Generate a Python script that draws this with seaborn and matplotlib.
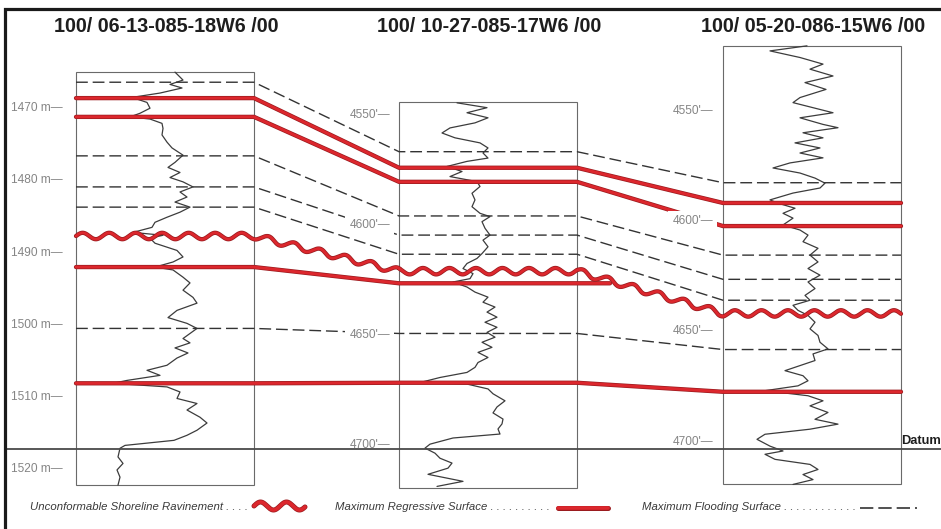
import numpy as np
import matplotlib
matplotlib.use("Agg")
import matplotlib.pyplot as plt
import matplotlib.patheffects as pe
from matplotlib.patches import Rectangle
from matplotlib.lines import Line2D
from matplotlib import font_manager
import seaborn as sns

# ---------------- data ----------------
wells = ["100/ 06-13-085-18W6 /00", "100/ 10-27-085-17W6 /00", "100/ 05-20-086-15W6 /00"]
units = ["m", "ft", "ft"]
datum_depth = [1517.2, 4702.0, 4703.4]
log_top = [1465.0, 4544.1, 4520.3]
log_base = [1522.2, 4719.9, 4719.4]
depth_ticks = [[1470, 1480, 1490, 1500, 1510, 1520],
               [4550, 4600, 4650, 4700],
               [4550, 4600, 4650, 4700]]

# surface picks (depth in each well, well units)
mfs_1 = [1466.4, 4566.9, 4582.4]
mfs_2 = [1476.6, 4596.1, 4615.3]
mfs_3 = [1480.9, 4604.8, 4626.3]
mfs_4 = [1483.7, 4613.5, 4635.8]
mfs_5 = [1500.5, 4649.5, 4658.2]
mrs_1 = [1468.6, 4574.2, 4591.6]
mrs_2 = [1471.2, 4580.6, 4602.1]
mrs_3 = [1492.0, 4626.7, None]
mrs_4 = [1508.1, 4671.9, 4677.4]
ravinement = [1487.7, 4621.2, 4641.8]

# gamma ray logs (depth, GR)
w1_depth = [1465.0, 1466.1, 1466.7, 1467.2, 1467.9, 1468.5, 1469.2, 1470.0, 1470.7, 1471.2,
            1471.5, 1472.1, 1472.8, 1473.7, 1474.7, 1475.5, 1476.5, 1477.5, 1478.2, 1478.9,
            1479.6, 1480.2, 1480.9, 1481.6, 1482.3, 1483.0, 1483.7, 1484.4, 1485.1, 1485.8,
            1486.5, 1487.2, 1487.6, 1488.0, 1488.7, 1489.7, 1490.6, 1491.3, 1492.0, 1492.4,
            1493.4, 1494.2, 1495.2, 1496.2, 1497.0, 1498.0, 1499.0, 1499.8, 1500.5, 1501.2,
            1501.9, 1502.5, 1503.2, 1503.9, 1504.6, 1505.6, 1506.3, 1507.0, 1507.7, 1508.1,
            1508.6, 1509.3, 1510.2, 1510.9, 1511.8, 1512.8, 1513.6, 1514.6, 1515.3, 1516.0,
            1516.7, 1517.1, 1518.3, 1519.2, 1520.1, 1521.1, 1522.2]
w1_gr = [99, 107, 94, 106, 84, 56, 71, 74, 64, 54,
         74, 86, 87, 86, 91, 96, 107, 99, 92, 104,
         94, 107, 117, 104, 111, 99, 114, 104, 91, 79,
         76, 57, 87, 74, 79, 101, 107, 97, 79, 97,
         107, 114, 107, 117, 121, 101, 92, 111, 121, 114,
         107, 114, 99, 112, 101, 91, 71, 84, 51, 37,
         91, 104, 101, 121, 111, 124, 131, 121, 111, 98,
         49, 44, 42, 47, 41, 44, 42]

w2_depth = [4544.7, 4546.9, 4549.2, 4551.5, 4553.8, 4556.1, 4558.4, 4560.6, 4562.9, 4565.2,
            4567.5, 4569.8, 4571.3, 4573.6, 4575.9, 4578.2, 4580.5, 4582.7, 4585.8, 4588.8,
            4591.9, 4594.9, 4596.4, 4598.7, 4601.7, 4604.8, 4607.1, 4610.1, 4613.2, 4615.4,
            4617.7, 4620.0, 4622.3, 4624.6, 4626.1, 4628.4, 4630.7, 4633.0, 4635.3, 4637.5,
            4639.8, 4642.1, 4644.4, 4646.7, 4649.0, 4651.2, 4653.5, 4655.8, 4658.1, 4660.4,
            4662.7, 4664.9, 4667.2, 4669.5, 4671.8, 4672.5, 4674.7, 4676.9, 4680.1, 4682.9,
            4685.6, 4688.4, 4690.6, 4692.9, 4695.2, 4697.0, 4699.8, 4701.6, 4703.9, 4706.2,
            4708.4, 4710.7, 4713.5, 4716.7, 4719.0]
w2_gr = [58, 88, 68, 89, 76, 51, 43, 56, 81, 89,
         84, 89, 68, 48, 63, 51, 78, 81, 73, 76,
         73, 81, 91, 83, 86, 91, 84, 89, 83, 78,
         68, 64, 74, 71, 54, 68, 76, 89, 84, 96,
         88, 98, 86, 98, 88, 96, 83, 93, 79, 89,
         79, 76, 68, 41, 21, 68, 89, 94, 106, 98,
         94, 104, 103, 99, 101, 54, 31, 26, 36, 41,
         53, 49, 29, 64, 38]

w3_depth = [4520.2, 4522.5, 4525.5, 4528.5, 4530.8, 4533.9, 4536.9, 4540.0, 4543.7, 4546.0,
            4548.3, 4550.6, 4552.9, 4555.9, 4557.4, 4559.7, 4562.0, 4564.3, 4566.6, 4568.9,
            4571.1, 4573.4, 4575.7, 4578.0, 4580.3, 4582.6, 4584.8, 4587.1, 4590.2, 4591.7,
            4594.0, 4596.3, 4598.5, 4601.6, 4603.9, 4606.2, 4609.2, 4612.2, 4615.3, 4618.4,
            4621.4, 4624.4, 4627.5, 4630.5, 4633.6, 4635.8, 4638.1, 4640.4, 4642.7, 4645.8,
            4648.8, 4651.8, 4654.9, 4657.9, 4660.2, 4663.2, 4665.5, 4667.8, 4670.1, 4672.4,
            4674.7, 4676.9, 4679.2, 4681.5, 4683.8, 4686.8, 4689.9, 4692.1, 4694.4, 4696.7,
            4699.0, 4702.1, 4704.3, 4705.8, 4708.1, 4710.4, 4712.7, 4715.0, 4717.3, 4719.5]
w3_gr = [84, 47, 77, 100, 87, 110, 82, 103, 77, 70,
         90, 110, 77, 100, 115, 80, 100, 72, 97, 77,
         100, 67, 50, 77, 92, 102, 97, 70, 47, 55,
         72, 60, 70, 60, 77, 85, 80, 95, 87, 95,
         85, 97, 85, 92, 82, 87, 70, 75, 85, 92,
         87, 95, 97, 105, 90, 92, 77, 62, 80, 85,
         75, 42, 85, 100, 87, 105, 92, 115, 87, 42,
         34, 47, 60, 42, 52, 87, 95, 80, 90, 70]

legend_labels = ["Unconformable Shoreline Ravinement", "Maximum Regressive Surface",
                 "Maximum Flooding Surface"]

# ---------------- layout ----------------
W, H = 941, 529
PX_PER_M = 7.22          # vertical scale
DATUM_PX = 449
WELL_LEFT = [76, 399, 723]
TRACK_W = 178
LABEL_GAP = [13, 9, 10]
MRS3_STOP = 610          # where the surface is cut by the ravinement
RED = "#dc272d"
RED_EDGE = "#9a1b1f"
DASH = "#333333"

sns.set_theme(style="white")
names = {f.name for f in font_manager.fontManager.ttflist}
NARROW = "Liberation Sans Narrow" if "Liberation Sans Narrow" in names else "Liberation Sans"
HAS_NARROW = NARROW != "Liberation Sans"
plt.rcParams["font.family"] = ["Liberation Sans", "DejaVu Sans"]


def rel(d, i):
    """depth in well i -> metres below datum"""
    f = 1.0 if units[i] == "m" else 0.3048
    return (d - datum_depth[i]) * f


def py(p):
    return (p - DATUM_PX) / PX_PER_M


def surface_path(picks, stop_x=None):
    xs, ys = [], []
    for i, d in enumerate(picks):
        if d is None:
            continue
        y = rel(d, i)
        xs += [WELL_LEFT[i], WELL_LEFT[i] + TRACK_W]
        ys += [y, y]
    if stop_x is not None:
        xs.append(stop_x)
        ys.append(ys[-1])
    return xs, ys


def wavy(xs, ys, amp=3.2, wl=26.5, phase=0.0):
    X = np.asarray(xs, float)
    Y = np.asarray(ys, float) * PX_PER_M
    s = np.concatenate([[0], np.cumsum(np.hypot(np.diff(X), np.diff(Y)))])
    ss = np.linspace(0, s[-1], int(s[-1] * 3))
    xx = np.interp(ss, s, X)
    yy = np.interp(ss, s, Y)
    dx, dy = np.gradient(xx), np.gradient(yy)
    n = np.hypot(dx, dy)
    off = amp * np.sin(2 * np.pi * ss / wl + phase)
    return xx - dy / n * off, (yy + dx / n * off) / PX_PER_M


red_fx = [pe.Stroke(linewidth=3.1, foreground=RED_EDGE), pe.Normal()]

fig = plt.figure(figsize=(W / 100, H / 100), dpi=100)
ax = fig.add_axes([0, 0, 1, 1])
ax.set_xlim(0, W)
ax.set_ylim(py(H), py(0))
ax.axis("off")

# well tracks, logs, depth labels, titles
logs = [(w1_depth, w1_gr), (w2_depth, w2_gr), (w3_depth, w3_gr)]
for i in range(3):
    top, base = rel(log_top[i], i), rel(log_base[i], i)
    ax.add_patch(Rectangle((WELL_LEFT[i], top), TRACK_W, base - top, fill=False,
                           ec="#6a6a6a", lw=0.8, zorder=2))
    dep, gr = logs[i]
    sns.lineplot(x=[WELL_LEFT[i] + g for g in gr], y=[rel(d, i) for d in dep],
                 sort=False, estimator=None, color="#3c3c3c", lw=0.9, ax=ax,
                 zorder=2, legend=False)
    for t in depth_ticks[i]:
        lab = f"{t} m\u2014" if units[i] == "m" else f"{t}'\u2014"
        ax.text(WELL_LEFT[i] - LABEL_GAP[i], rel(t, i), lab, ha="right", va="center",
                fontsize=9.5 if HAS_NARROW else 8.6, color="#858585",
                family=[NARROW, "DejaVu Sans"], zorder=5,
                bbox=dict(fc="white", ec="none", pad=3.0))
    ax.text(WELL_LEFT[i] + TRACK_W / 2 + 1, py(27), wells[i], ha="center", va="center",
            fontsize=16.5 if HAS_NARROW else 14.2, fontweight="bold",
            color="#1e1e1e", family=[NARROW, "DejaVu Sans"], zorder=7)

# maximum flooding surfaces
for picks in [mfs_1, mfs_2, mfs_3, mfs_4, mfs_5]:
    xs, ys = surface_path(picks)
    ax.plot(xs, ys, color=DASH, lw=1.0, dashes=(8.5, 3.5), zorder=3)

# maximum regressive surfaces
for picks in [mrs_1, mrs_2, mrs_3, mrs_4]:
    xs, ys = surface_path(picks, MRS3_STOP if picks is mrs_3 else None)
    ax.plot(xs, ys, color=RED, lw=2.1, solid_capstyle="round", zorder=4, path_effects=red_fx)

# ravinement surface
xs, ys = surface_path(ravinement)
wx, wy = wavy(xs, ys, phase=np.pi)
ax.plot(wx, wy, color=RED, lw=2.0, zorder=4, path_effects=red_fx)

# datum
ax.plot([5, W], [0, 0], color="#4a4a4a", lw=1.3, zorder=6)
ax.text(901, py(441), "Datum", ha="left", va="center", fontsize=9.3, fontweight="bold",
        color="#1e1e1e", zorder=7)

# legend
leg_y = py(507)
ax.text(30, leg_y, legend_labels[0] + " . . . .", fontsize=8.2, style="italic",
        color="#3a3a3a", va="center")
lx, ly = wavy([254, 305], [py(506), py(506)], amp=4.0, wl=26, phase=np.pi)
ax.plot(lx, ly, color=RED, lw=2.6, path_effects=[pe.Stroke(linewidth=3.6, foreground=RED_EDGE), pe.Normal()])
ax.text(335, leg_y, legend_labels[1] + " . . . . . . . . . .", fontsize=8.2, style="italic",
        color="#3a3a3a", va="center")
ax.plot([558, 608], [py(508), py(508)], color=RED, lw=2.6,
        path_effects=[pe.Stroke(linewidth=3.6, foreground=RED_EDGE), pe.Normal()])
ax.text(642, leg_y, legend_labels[2] + " . . . . . . . . . . . .", fontsize=8.2, style="italic",
        color="#3a3a3a", va="center")
ax.plot([860, 917], [py(508), py(508)], color=DASH, lw=1.2, dashes=(8, 3))

# outer frame
fig.add_artist(Line2D([5 / W, 5 / W, 1.0], [0, 1 - 9 / H, 1 - 9 / H], transform=fig.transFigure,
                      color="#1a1a1a", lw=2.3, solid_joinstyle="miter", zorder=10))

fig.savefig("out.png", dpi=100)
